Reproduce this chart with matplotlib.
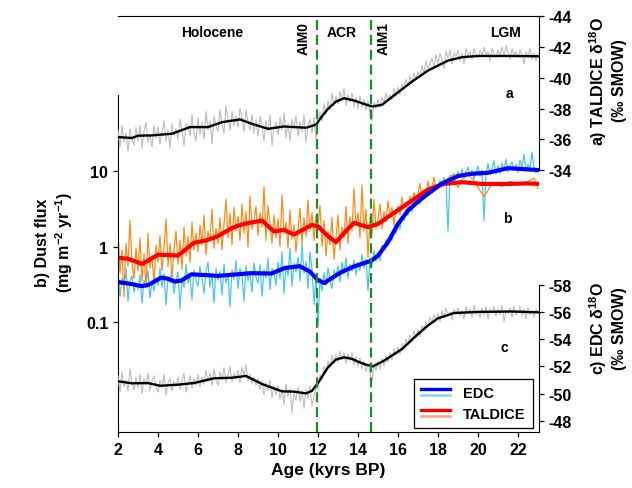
import numpy as np
import matplotlib
matplotlib.use('Agg')
import matplotlib.pyplot as plt
from matplotlib.lines import Line2D
from matplotlib.legend_handler import HandlerBase
from matplotlib.ticker import NullLocator
import matplotlib.transforms as mtransforms

plt.rcParams['font.family'] = ['Liberation Sans', 'DejaVu Sans']
plt.rcParams['font.weight'] = 'bold'
plt.rcParams['mathtext.fontset'] = 'custom'
plt.rcParams['mathtext.rm'] = 'Liberation Sans:bold'
plt.rcParams['mathtext.it'] = 'Liberation Sans:bold'
plt.rcParams['mathtext.bf'] = 'Liberation Sans:bold'
plt.rcParams['axes.unicode_minus'] = False

# ---- TALDICE d18O (panel a) ----
taldice_d18o_age = [2.0, 2.7, 3.0, 3.7, 4.7, 5.6, 6.5, 7.2, 8.1, 8.7, 9.5, 10.3, 11.4, 11.9, 12.2,
                    12.5, 12.9, 13.3, 13.8, 14.3, 14.7, 15.2, 15.8, 16.7, 17.5, 18.5, 19.2, 20.0,
                    21.7, 23.05]
taldice_d18o_smooth = [-36.14, -36.08, -36.23, -36.25, -36.36, -36.79, -36.79, -37.11, -37.29, -37.0,
                       -36.68, -36.83, -36.75, -36.95, -37.5, -37.98, -38.45, -38.67, -38.52, -38.3,
                       -38.13, -38.24, -38.85, -39.75, -40.47, -41.12, -41.34, -41.42, -41.42, -41.4]
raw_age = np.round(np.arange(2.0, 23.05, 0.1), 2)
taldice_d18o_raw = [
    -36.6, -35.5, -36.9, -35.8, -36.4, -35.2, -36.7, -36.0, -35.6, -36.8,
    -35.9, -36.9, -35.4, -36.5, -37.1, -35.8, -36.3, -35.5, -36.9, -36.1,
    -36.8, -35.7, -36.4, -37.2, -35.9, -36.6, -35.4, -37.0, -36.2, -36.7,
    -36.0, -37.3, -36.5, -35.6, -37.0, -36.9, -36.2, -37.6, -36.4, -35.9,
    -37.4, -36.3, -37.1, -36.0, -37.8, -36.6, -37.2, -35.7, -37.5, -36.9,
    -36.5, -37.9, -37.0, -36.4, -38.2, -37.3, -36.6, -37.8, -36.9, -37.5,
    -36.8, -38.0, -37.4, -36.5, -37.9, -37.1, -36.6, -37.6, -36.4, -37.3,
    -36.2, -37.5, -36.9, -35.9, -37.2, -36.5, -37.6, -35.6, -36.8, -37.1,
    -36.3, -37.4, -36.6, -37.7, -36.1, -37.0, -35.9, -37.3, -36.7, -37.5,
    -36.2, -37.1, -36.5, -37.6, -35.8, -36.9, -37.3, -36.4, -37.4, -36.0,
    -37.0, -37.8, -37.2, -38.3, -37.6, -38.5, -37.9, -39.0, -38.2, -38.8,
    -38.3, -39.1, -38.5, -39.3, -38.2, -38.9, -38.4, -39.0, -38.1, -38.7,
    -38.0, -38.8, -38.1, -38.6, -37.9, -38.5, -37.6, -37.2, -38.4, -38.0,
    -38.6, -38.1, -38.7, -38.4, -39.0, -38.5, -38.9, -38.6, -39.3, -38.8,
    -39.4, -38.9, -39.6, -39.3, -39.9, -39.5, -40.1, -39.6, -40.3, -39.9,
    -40.4, -40.0, -40.8, -40.3, -41.1, -40.6, -40.9, -41.3, -40.7, -41.5,
    -40.9, -41.6, -41.2, -40.6, -41.7, -41.3, -41.8, -40.9, -41.6, -41.4,
    -41.8, -41.1, -41.6, -40.9, -41.9, -41.4, -41.7, -41.2, -41.9, -41.5,
    -41.3, -41.8, -41.5, -42.0, -41.4, -41.7, -41.1, -41.9, -41.6, -41.3,
    -41.8, -41.5, -42.0, -41.4, -42.1, -41.6, -41.2, -41.9, -41.5, -41.7,
    -41.3, -41.8, -41.5, -40.9, -41.7, -41.4, -41.9, -41.2, -41.6, -41.1,
    -41.5]

# ---- EDC d18O (panel c) ----
edc_d18o_age = [2.0, 2.7, 3.5, 4.1, 5.0, 5.8, 6.8, 7.7, 8.4, 9.2, 10.2, 10.8, 11.4, 11.7, 12.0,
                12.5, 12.9, 13.3, 13.7, 14.0, 14.4, 14.75, 15.3, 16.2, 17.0, 17.5, 18.0, 18.8,
                20.0, 21.7, 23.05]
edc_d18o_smooth = [-50.9, -50.75, -50.77, -50.57, -50.65, -50.77, -51.12, -51.16, -51.29, -50.7,
                   -50.16, -50.14, -50.01, -50.2, -50.77, -51.93, -52.5, -52.66, -52.55, -52.34,
                   -52.12, -52.0, -52.41, -53.27, -54.37, -55.0, -55.53, -55.92, -56.0, -56.03,
                   -55.97]
edc_d18o_raw = [
    -51.3, -50.1, -51.6, -50.5, -51.0, -50.2, -51.8, -50.7, -50.3, -51.2,
    -50.4, -51.4, -50.0, -51.1, -50.6, -51.5, -50.2, -50.9, -51.3, -50.5,
    -50.1, -51.0, -50.4, -51.4, -49.9, -50.8, -51.1, -50.2, -50.9, -50.5,
    -51.2, -50.3, -50.9, -51.5, -50.1, -50.7, -51.3, -50.4, -51.1, -50.6,
    -51.4, -50.5, -51.2, -50.7, -51.7, -50.9, -51.5, -50.6, -51.8, -51.0,
    -50.6, -51.6, -51.0, -51.9, -50.8, -51.4, -52.0, -50.9, -51.5, -51.1,
    -51.7, -50.8, -51.9, -51.3, -52.1, -50.9, -51.4, -50.7, -51.2, -50.6,
    -51.1, -50.3, -50.9, -49.9, -50.8, -50.2, -51.0, -49.7, -50.5, -49.9,
    -50.6, -49.6, -50.3, -49.2, -50.7, -49.8, -50.4, -48.6, -50.1, -49.5,
    -50.5, -49.4, -50.2, -48.9, -50.3, -49.6, -50.6, -49.1, -49.9, -50.4,
    -50.3, -51.4, -51.0, -52.0, -51.6, -52.4, -51.9, -52.8, -52.2, -52.9,
    -52.3, -53.1, -52.5, -53.0, -52.2, -52.9, -52.4, -53.0, -52.1, -52.7,
    -52.0, -52.6, -51.8, -52.4, -51.6, -52.2, -51.5, -50.9, -52.1, -51.7,
    -52.4, -51.8, -52.6, -52.0, -52.8, -52.3, -53.0, -52.5, -53.3, -52.8,
    -53.4, -52.9, -53.7, -53.3, -54.0, -53.6, -54.3, -53.8, -54.6, -54.1,
    -54.7, -54.2, -55.0, -54.6, -55.3, -54.9, -55.6, -55.2, -55.8, -55.4,
    -55.9, -55.3, -56.1, -55.6, -56.3, -55.7, -56.0, -55.4, -56.2, -55.8,
    -56.3, -55.7, -56.1, -55.5, -56.4, -55.9, -56.2, -55.6, -56.5, -55.8,
    -56.1, -55.6, -56.3, -55.8, -56.4, -55.5, -56.2, -55.9, -56.4, -55.7,
    -56.2, -55.8, -56.5, -55.3, -56.1, -55.9, -56.3, -55.6, -56.4, -55.8,
    -56.0, -56.4, -55.7, -56.2, -55.5, -56.3, -55.8, -56.1, -55.6, -56.2,
    -55.9]

# ---- Dust flux (panel b) ----
edc_dust_age = [2.0, 2.67, 3.17, 3.5, 4.17, 4.5, 4.83, 5.17, 5.67, 7.0, 8.67, 9.67, 10.33, 11.08,
                11.58, 12.0, 12.33, 12.5, 13.17, 13.83, 14.67, 15.0, 15.5, 16.0, 16.5, 17.0, 17.5,
                18.17, 19.0, 19.67, 20.5, 21.5, 22.5, 23.05]
edc_dust_smooth = [0.34, 0.32, 0.30, 0.31, 0.39, 0.375, 0.345, 0.356, 0.43, 0.41, 0.445, 0.44,
                   0.52, 0.55, 0.47, 0.36, 0.33, 0.356, 0.46, 0.55, 0.65, 0.76, 1.14, 1.99, 2.98,
                   3.92, 4.96, 6.7, 8.5, 9.1, 9.4, 10.8, 10.4, 10.2]
edc_dust_raw = [
    0.45, 0.22, 0.38, 0.28, 0.52, 0.19, 0.35, 0.41, 0.25, 0.33,
    0.27, 0.42, 0.18, 0.36, 0.30, 0.48, 0.21, 0.34, 0.26, 0.39,
    0.31, 0.52, 0.29, 0.44, 0.17, 0.40, 0.33, 0.55, 0.24, 0.37,
    0.46, 0.15, 0.38, 0.29, 0.58, 0.33, 0.41, 0.20, 0.49, 0.36,
    0.30, 0.55, 0.38, 0.24, 0.47, 0.62, 0.29, 0.44, 0.18, 0.51,
    0.36, 0.47, 0.23, 0.58, 0.33, 0.42, 0.16, 0.49, 0.37, 0.65,
    0.28, 0.52, 0.41, 0.19, 0.56, 0.35, 0.47, 0.25, 0.61, 0.40,
    0.33, 0.58, 0.22, 0.49, 0.38, 0.70, 0.27, 0.52, 0.44, 0.31,
    0.62, 0.37, 0.85, 0.24, 0.55, 0.41, 0.95, 0.30, 0.60, 0.46,
    0.72, 0.35, 1.10, 0.44, 0.63, 0.28, 0.85, 0.50, 0.17, 0.42,
    0.09, 0.38, 0.26, 0.45, 0.31, 0.52, 0.36, 0.28, 0.49, 0.40,
    0.55, 0.34, 0.62, 0.43, 0.71, 0.38, 0.58, 0.47, 0.66, 0.42,
    0.61, 0.48, 0.78, 0.52, 0.69, 0.26, 0.73, 0.56, 0.88, 0.64,
    0.82, 0.65, 1.05, 0.90, 1.25, 1.02, 1.45, 1.20, 1.75, 1.50,
    2.1, 1.7, 2.5, 2.2, 3.1, 2.6, 3.4, 2.9, 4.1, 3.5,
    4.2, 3.6, 4.8, 4.3, 5.4, 4.7, 5.9, 5.1, 6.6, 5.8,
    6.2, 7.4, 6.8, 8.1, 7.0, 1.6, 8.6, 7.6, 9.2, 8.0,
    9.8, 8.2, 10.5, 7.9, 9.4, 11.2, 8.6, 10.1, 7.7, 9.6,
    11.5, 8.4, 10.2, 2.2, 9.1, 12.4, 8.8, 10.6, 13.5, 9.0,
    11.8, 9.2, 12.6, 10.0, 14.2, 9.6, 11.3, 13.0, 10.4, 12.1,
    9.5, 13.8, 10.8, 16.5, 9.9, 12.2, 10.6, 17.5, 11.0, 9.3,
    10.6]

taldice_dust_age = [2.0, 2.5, 3.2, 3.5, 4.0, 5.0, 5.8, 6.4, 7.0, 7.7, 8.3, 9.2, 9.8, 10.3, 10.8,
                    11.7, 12.0, 12.5, 12.9, 13.5, 13.8, 14.5, 15.0, 15.8, 16.7, 17.5, 18.3, 19.2,
                    20.2, 21.5, 22.5, 23.05]
taldice_dust_smooth = [0.71, 0.69, 0.59, 0.65, 0.78, 0.76, 1.12, 1.2, 1.37, 1.76, 1.99, 2.2, 1.58,
                       1.66, 1.44, 1.93, 1.84, 1.37, 1.14, 1.71, 2.05, 1.8, 1.99, 2.78, 4.05, 5.65,
                       6.7, 7.06, 6.7, 6.7, 6.8, 6.7]
taldice_raw_age_lgm = [18.3, 18.7, 19.0, 19.4, 19.8, 20.3, 20.7, 21.2, 21.6, 22.0, 22.4, 22.8, 23.0]
taldice_dust_raw = [
    1.6, 0.45, 0.9, 0.22, 1.1, 0.55, 2.2, 0.6, 0.38, 0.95,
    0.48, 1.3, 0.35, 0.8, 0.28, 1.5, 0.52, 0.75, 0.32, 1.05,
    0.62, 1.4, 0.48, 0.95, 2.3, 0.55, 1.1, 0.4, 0.88, 1.6,
    0.58, 1.2, 0.5, 1.8, 0.75, 1.35, 0.62, 2.1, 0.9, 1.5,
    0.85, 1.9, 1.05, 2.6, 0.78, 1.6, 1.2, 3.1, 0.95, 1.75,
    1.1, 2.4, 0.9, 2.0, 4.2, 1.3, 2.7, 1.05, 3.3, 1.6,
    2.5, 1.2, 3.6, 1.5, 2.9, 0.98, 4.6, 1.7, 2.2, 3.4,
    1.4, 2.8, 1.8, 6.2, 1.2, 3.5, 2.0, 1.1, 2.6, 1.3,
    2.3, 1.0, 4.8, 1.5, 2.1, 0.95, 3.0, 1.25, 1.9, 0.85,
    1.7, 3.2, 1.1, 2.4, 1.35, 4.1, 1.6, 2.8, 1.2, 2.5,
    1.9, 3.5, 1.0, 2.2, 0.75, 1.6, 1.05, 2.4, 0.68, 1.3,
    2.6, 0.9, 1.8, 1.3, 3.4, 1.1, 2.5, 1.6, 5.8, 1.9,
    2.8, 1.3, 6.5, 1.6, 3.1, 0.72, 2.4, 1.5, 4.2, 1.7,
    2.3, 3.6, 1.7, 2.9, 2.1, 4.0, 2.5, 3.3, 1.9, 3.0,
    3.4, 2.6, 4.5, 3.1, 3.8, 2.9, 4.6, 3.6, 5.2, 4.0,
    4.9, 6.8, 4.3, 5.6, 4.8, 7.3, 5.2, 6.0, 8.2, 5.9,
    6.3,
    7.2, 8.8, 6.0, 9.6, 7.4, 4.5, 6.8, 6.2, 7.3, 6.6, 7.0, 8.0, 5.8]
taldice_raw_age = np.concatenate([raw_age[raw_age <= 18.0], taldice_raw_age_lgm])

aim_lines = [11.95, 14.66]
period_labels = [('Holocene', 6.7), ('ACR', 13.2), ('LGM', 21.35)]
aim_labels = [('AIM0', 11.3), ('AIM1', 15.3)]

c_grey = '#bdbdbd'
c_green = '#1e8c1e'


class PairHandler(HandlerBase):
    # thick smoothed line above, thin raw line below it
    def create_artists(self, legend, orig_handle, xdescent, ydescent, width, height,
                       fontsize, trans):
        dark, light = orig_handle
        y = height / 2.0 - ydescent
        off = 0.2 * fontsize
        l1 = Line2D([-xdescent, width - xdescent], [y + off, y + off],
                    color=dark.get_color(), lw=2.4, transform=trans)
        l2 = Line2D([-xdescent, width - xdescent], [y - off, y - off],
                    color=light.get_color(), lw=1.8, transform=trans)
        return [l2, l1]


fig = plt.figure(figsize=(6.32, 4.89), dpi=100)
ax = fig.add_axes([0.18671, 0.11452, 0.66614, 0.85072])
ax_t = ax.twinx()
ax_e = ax.twinx()

dust_lo, dust_hi = 0.00357, 1100

# dust
ax.plot(raw_age, edc_dust_raw, color='#4cc6ea', lw=0.9)
ax.plot(taldice_raw_age, taldice_dust_raw, color='#ff8c1a', lw=0.9)
red, = ax.plot(taldice_dust_age, taldice_dust_smooth, color='#ff0000', lw=3.0)
blue, = ax.plot(edc_dust_age, edc_dust_smooth, color='#0000ff', lw=3.0)
ax.set_yscale('log')
ax.set_ylim(dust_lo, dust_hi)
ax.set_yticks([0.1, 1, 10])
ax.set_yticklabels(['0.1', '1', '10'])
ax.yaxis.set_minor_locator(NullLocator())
ax.set_xlim(2, 23.05)
ax.set_xticks(range(2, 23, 2))
ax.xaxis.set_minor_locator(NullLocator())
ax.set_xlabel('Age (kyrs BP)', fontsize=12.5, fontweight='bold', labelpad=4)
ax.spines['right'].set_visible(False)
ax.spines['left'].set_bounds(dust_lo, 100)
ax.tick_params(axis='both', labelsize=11.5, direction='out', length=3.5, width=0.9)

# TALDICE d18O
ax_t.plot(raw_age, taldice_d18o_raw, color=c_grey, lw=0.8)
ax_t.plot(taldice_d18o_age, taldice_d18o_smooth, color='black', lw=1.7)
ax_t.set_ylim(-16.95, -44.02)
ax_t.set_yticks(range(-44, -33, 2))

# EDC d18O
ax_e.plot(raw_age, edc_d18o_raw, color=c_grey, lw=0.8)
ax_e.plot(edc_d18o_age, edc_d18o_smooth, color='black', lw=1.7)
ax_e.set_ylim(-47.17, -77.76)
ax_e.set_yticks(range(-58, -47, 2))

for a in (ax_t, ax_e):
    for s in ('top', 'bottom', 'left'):
        a.spines[s].set_visible(False)
    a.tick_params(axis='y', labelsize=11.5, direction='out', length=3.5, width=0.9)
ax_t.spines['right'].set_bounds(-44, -34)
ax_e.spines['right'].set_bounds(-58, -47.17)

for xv in aim_lines:
    ax_e.axvline(xv, color=c_green, lw=1.6, linestyle=(0, (4.5, 2.2)))

trans = mtransforms.blended_transform_factory(ax.transData, ax.transAxes)
for name, xv in period_labels:
    ax_e.text(xv, 0.962, name, transform=trans, ha='center', va='center',
              fontsize=10, fontweight='bold')
for name, xv in aim_labels:
    ax_e.text(xv, 0.948, name, transform=trans, ha='center', va='center',
              rotation=90, fontsize=10, fontweight='bold')

ax_t.text(21.58, -39.0, 'a', ha='center', va='center', fontsize=10, fontweight='bold')
ax.text(21.45, 2.37, 'b', ha='center', va='center', fontsize=10, fontweight='bold')
ax_e.text(21.33, -53.4, 'c', ha='center', va='center', fontsize=10, fontweight='bold')

ax.text(-0.15, 0.457, 'b) Dust flux\n(mg m$^{-2}$ yr$^{-1}$)', transform=ax.transAxes,
        rotation=90, ha='center', va='center', fontsize=11.5, fontweight='bold',
        multialignment='center')
ax.text(1.162, 0.846, 'a) TALDICE δ$^{18}$O\n(‰ SMOW)', transform=ax.transAxes,
        rotation=90, ha='center', va='center', fontsize=11.5, fontweight='bold',
        multialignment='center')
ax.text(1.162, 0.252, 'c) EDC δ$^{18}$O\n(‰ SMOW)', transform=ax.transAxes,
        rotation=90, ha='center', va='center', fontsize=11.5, fontweight='bold',
        multialignment='center')

edc_light = Line2D([], [], color='#7fd8f2')
tal_light = Line2D([], [], color='#ffa577')
leg = ax_e.legend([(blue, edc_light), (red, tal_light)], ['EDC', 'TALDICE'],
                  handler_map={tuple: PairHandler()}, loc='lower right',
                  bbox_to_anchor=(0.986, 0.0096), borderaxespad=0, frameon=True,
                  fancybox=False, edgecolor='black', framealpha=1, borderpad=0.5,
                  handlelength=2.0, handletextpad=0.9, labelspacing=0.45,
                  prop={'weight': 'bold', 'size': 10.5})
leg.get_frame().set_linewidth(0.9)

fig.savefig('out.png', dpi=100)
